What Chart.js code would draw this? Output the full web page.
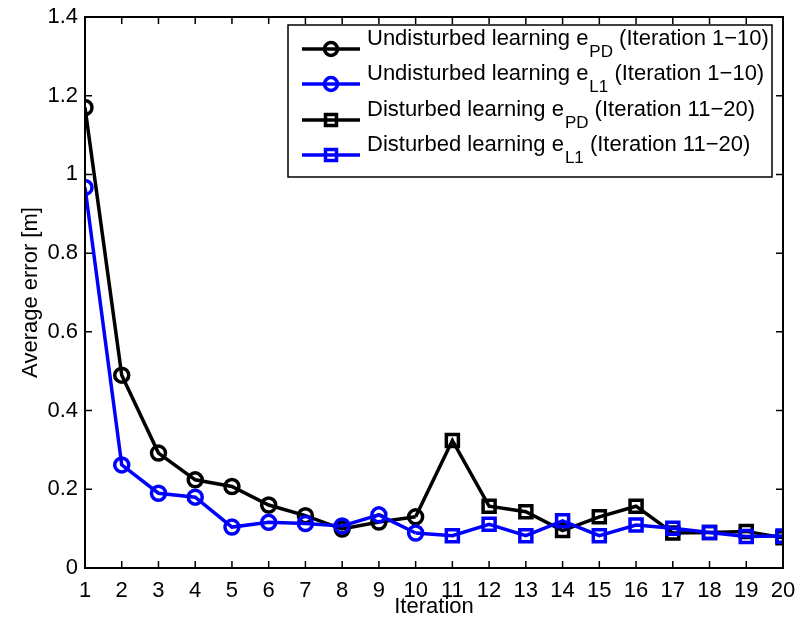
<!DOCTYPE html>
<html lang="en">
<head>
<meta charset="UTF-8">
<title>Average error per iteration</title>
<style>body{margin:0;background:#fff}</style>
</head>
<body>
<canvas id="myChart" width="797" height="628"></canvas>
<script src="https://cdn.jsdelivr.net/npm/chart.js"></script>
<script>
const iterations = [1, 2, 3, 4, 5, 6, 7, 8, 9, 10, 11, 12, 13, 14, 15, 16, 17, 18, 19, 20];
// iteration 1-10 (undisturbed), 11-20 (disturbed)
const pdUndisturbed = [1.17, 0.49, 0.292, 0.224, 0.207, 0.16, 0.133, 0.099, 0.117, 0.13];
const l1Undisturbed = [0.967, 0.262, 0.19, 0.18, 0.104, 0.116, 0.113, 0.107, 0.135, 0.089];
const pdDisturbed = [0.324, 0.157, 0.143, 0.095, 0.13, 0.157, 0.089, 0.09, 0.093, 0.077];
const l1Disturbed = [0.082, 0.111, 0.082, 0.12, 0.082, 0.109, 0.101, 0.09, 0.08, 0.081];
const yTicks = [0, 0.2, 0.4, 0.6, 0.8, 1, 1.2, 1.4];
const legendMain = ['Undisturbed learning e', 'Undisturbed learning e', 'Disturbed learning e', 'Disturbed learning e'];
const legendSub = ['PD', 'L1', 'PD', 'L1'];
const legendTail = [' (Iteration 1\u221210)', ' (Iteration 1\u221210)', ' (Iteration 11\u221220)', ' (Iteration 11\u221220)'];
const xTitle = 'Iteration';
const yTitle = 'Average error [m]';

const FONT = '"Liberation Sans", Arial, Helvetica, sans-serif';
const BLUE = '#0000ff';

const first = iterations.slice(0, 10);
const second = iterations.slice(10);

function pts(xs, ys) { return xs.map((x, i) => ({ x: x, y: ys[i] })); }

// disturbed lines start at the last undisturbed point (no marker there)
const pdDist = [{ x: first[9], y: pdUndisturbed[9] }].concat(pts(second, pdDisturbed));
const l1Dist = [{ x: first[9], y: l1Undisturbed[9] }].concat(pts(second, l1Disturbed));

function radii(n, r) { return [0].concat(Array(n).fill(r)); }

const datasets = [
    { label: 'pd1', data: pts(first, pdUndisturbed), borderColor: '#000', pointStyle: 'circle', pointRadius: 7, order: 4 },
    { label: 'l11', data: pts(first, l1Undisturbed), borderColor: BLUE, pointStyle: 'circle', pointRadius: 7, order: 3 },
    { label: 'pd2', data: pdDist, borderColor: '#000', pointStyle: 'rect', pointRadius: radii(10, 8.5), order: 2 },
    { label: 'l12', data: l1Dist, borderColor: BLUE, pointStyle: 'rect', pointRadius: radii(10, 8.5), order: 1 }
].map(d => Object.assign({
    borderWidth: 3.5,
    pointBorderWidth: 3.5,
    pointBorderColor: d.borderColor,
    pointBackgroundColor: 'rgba(0,0,0,0)',
    pointHoverRadius: 0,
    tension: 0,
    fill: false
}, d));

const matlabFrame = {
    id: 'matlabFrame',
    afterDatasetsDraw(chart) {
        const ctx = chart.ctx;
        const a = chart.chartArea;
        const xs = chart.scales.x, ys = chart.scales.y;
        ctx.save();
        ctx.strokeStyle = '#000';
        ctx.lineWidth = 1.5;
        ctx.beginPath();
        const tl = 7;
        iterations.forEach(v => {
            const px = xs.getPixelForValue(v);
            ctx.moveTo(px, a.bottom); ctx.lineTo(px, a.bottom - tl);
            ctx.moveTo(px, a.top); ctx.lineTo(px, a.top + tl);
        });
        yTicks.forEach(v => {
            const py = ys.getPixelForValue(v);
            ctx.moveTo(a.left, py); ctx.lineTo(a.left + tl, py);
            ctx.moveTo(a.right, py); ctx.lineTo(a.right - tl, py);
        });
        ctx.stroke();
        ctx.lineWidth = 2;
        ctx.strokeRect(a.left, a.top, a.right - a.left, a.bottom - a.top);

        // axis titles
        ctx.fillStyle = '#000';
        ctx.font = '22px ' + FONT;
        ctx.textAlign = 'center';
        ctx.textBaseline = 'middle';
        ctx.fillText(xTitle, (a.left + a.right) / 2, 607);
        ctx.translate(31, (a.top + a.bottom) / 2);
        ctx.rotate(-Math.PI / 2);
        ctx.fillText(yTitle, 0, 0);
        ctx.restore();

        // legend box
        ctx.save();
        const bx = 288, by = 25, bw = 484, bh = 152;
        ctx.fillStyle = '#fff';
        ctx.fillRect(bx, by, bw, bh);
        ctx.strokeStyle = '#000';
        ctx.lineWidth = 1.5;
        ctx.strokeRect(bx, by, bw, bh);
        const rowY = [49, 84, 120, 155];
        datasets.forEach((d, i) => {
            const y = rowY[i];
            ctx.strokeStyle = d.borderColor;
            ctx.lineWidth = 3.5;
            ctx.beginPath();
            ctx.moveTo(302, y); ctx.lineTo(360, y);
            ctx.stroke();
            if (d.pointStyle === 'circle') {
                ctx.beginPath();
                ctx.arc(331, y, 6.5, 0, Math.PI * 2);
                ctx.stroke();
            } else {
                ctx.strokeRect(331 - 5.5, y - 5.5, 11, 11);
            }
            ctx.fillStyle = '#000';
            ctx.textAlign = 'left';
            ctx.textBaseline = 'alphabetic';
            ctx.font = '22px ' + FONT;
            let x = 367;
            ctx.fillText(legendMain[i], x, y - 4);
            x += ctx.measureText(legendMain[i]).width + 1;
            ctx.font = '17px ' + FONT;
            ctx.fillText(legendSub[i], x, y + 8);
            x += ctx.measureText(legendSub[i]).width;
            ctx.font = '22px ' + FONT;
            ctx.fillText(legendTail[i], x, y - 4);
        });
        ctx.restore();
    }
};

const cfg = {
    type: 'line',
    data: { datasets: datasets },
    options: {
        responsive: false,
        animation: false,
        events: [],
        layout: { padding: { top: 17, right: 14, left: 0, bottom: 0 } },
        plugins: { legend: { display: false }, tooltip: { enabled: false } },
        scales: {
            x: {
                type: 'linear',
                min: 1,
                max: 20,
                grid: { display: false, drawTicks: false },
                border: { display: false },
                afterFit: s => { s.height = 60; s.paddingLeft = 0; s.paddingRight = 0; },
                afterBuildTicks: s => { s.ticks = iterations.map(v => ({ value: v })); },
                ticks: { color: '#000', padding: 10, maxRotation: 0, autoSkip: false, font: { family: FONT, size: 22 } }
            },
            y: {
                type: 'linear',
                min: 0,
                max: 1.4,
                grid: { display: false, drawTicks: false },
                border: { display: false },
                afterFit: s => { s.width = 85; s.paddingTop = 0; s.paddingBottom = 0; },
                afterBuildTicks: s => { s.ticks = yTicks.map(v => ({ value: v })); },
                ticks: { color: '#000', padding: 7, callback: v => String(v), font: { family: FONT, size: 22 } }
            }
        }
    },
    plugins: [matlabFrame]
};

new Chart(document.getElementById('myChart').getContext('2d'), cfg);
</script>
</body>
</html>
